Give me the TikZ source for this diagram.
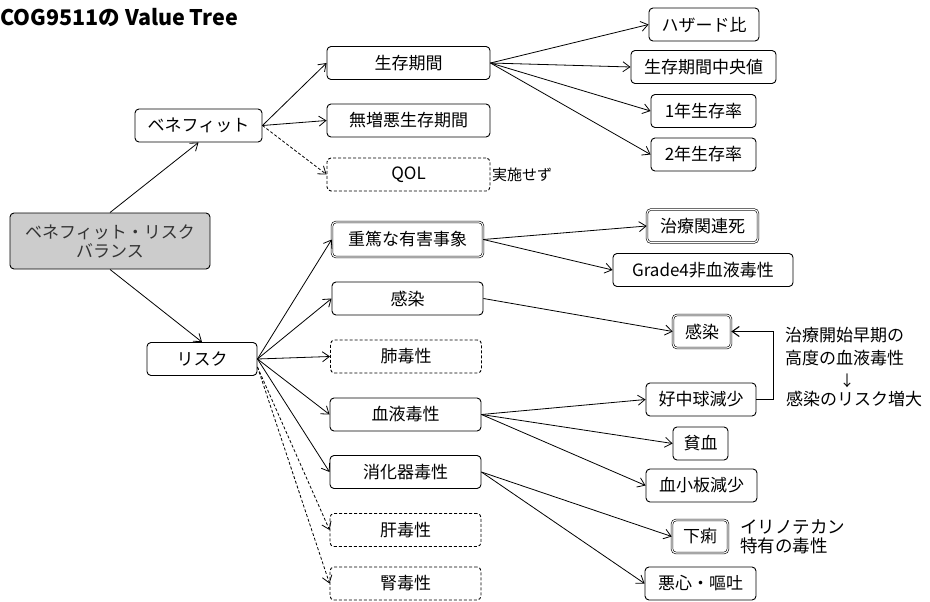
\documentclass[tikz,border=0pt]{standalone}
\usepackage{fontspec}
\setmainfont{Noto Sans CJK JP}
\usetikzlibrary{arrows.meta}
\begin{document}
\begin{tikzpicture}[x=1pt,y=-1pt,
  box/.style={draw, rounded corners=4pt, line width=0.9pt, inner sep=0pt,
    minimum height=33pt, font=\fontsize{17}{19}\selectfont, align=center},
  dashbox/.style={box, dash pattern=on 3pt off 2pt},
  dbl/.style={box, double, double distance=1.1pt, line width=0.6pt},
  arr/.style={-{Straight Barb[length=7pt,width=10pt]}, line width=0.8pt},
  darr/.style={arr, dash pattern=on 3pt off 2pt},
  note/.style={inner sep=0pt, font=\fontsize{17}{22.5}\selectfont, align=left}
]
\useasboundingbox (0,0) rectangle (930,602);

% title
\node[anchor=west, inner sep=0pt, font=\fontsize{21.5}{24}\selectfont\bfseries] (title) at (0,18) {COG9511の Value Tree};

% root and first level
\node[box, fill=gray!40, text=black!80, minimum width=200pt, minimum height=56pt] (root) at (110,241) {ベネフィット・リスク\\バランス};
\node[box, minimum width=127pt] (bene) at (198.5,125.5) {ベネフィット};
\node[box, minimum width=110pt] (risk) at (202,359) {リスク};

% benefit children
\node[box, minimum width=163pt] (seizon) at (408.5,63) {生存期間};
\node[box, minimum width=163pt] (muzou) at (408.5,120.5) {無増悪生存期間};
\node[dashbox, minimum width=163pt] (qol) at (408.5,174.5) {QOL};
\node[anchor=west, inner sep=0pt, font=\fontsize{15}{17}\selectfont] (jisshi) at (492,175) {実施せず};

% risk children
\node[dbl, minimum width=151pt, minimum height=35pt] (juutoku) at (407.5,239.5) {重篤な有害事象};
\node[box, minimum width=151pt] (kansen) at (407.5,298.5) {感染};
\node[dashbox, minimum width=151pt] (hai) at (406,356.5) {肺毒性};
\node[box, minimum width=151pt] (ketsu) at (405.5,414.5) {血液毒性};
\node[box, minimum width=151pt] (shoka) at (405.5,472) {消化器毒性};
\node[dashbox, minimum width=151pt] (kan) at (405.5,530) {肝毒性};
\node[dashbox, minimum width=151pt] (jin) at (405.5,583.5) {腎毒性};

% survival leaves
\node[box, minimum width=110pt] (hazard) at (704,24.5) {ハザード比};
\node[box, minimum width=145pt] (chuo) at (703.5,67) {生存期間中央値};
\node[box, minimum width=105pt] (yone) at (703.5,111) {1年生存率};
\node[box, minimum width=105pt] (ytwo) at (703.5,154.5) {2年生存率};

% adverse event leaves
\node[dbl, minimum width=111pt] (shibou) at (702.5,226) {治療関連死};
\node[box, minimum width=180pt] (grade) at (703,270) {Grade4非血液毒性};
\node[dbl, minimum width=58pt] (kansenR) at (702,331.5) {感染};
\node[box, minimum width=110pt] (kokyu) at (701,399.5) {好中球減少};
\node[box, minimum width=55pt] (hinketsu) at (700.5,443.5) {貧血};
\node[box, minimum width=111pt] (kesshoban) at (701.5,485.5) {血小板減少};
\node[dbl, minimum width=56pt] (geri) at (700,536.5) {下痢};
\node[box, minimum width=111pt] (oshin) at (700.5,583.5) {悪心・嘔吐};

% notes
\node[note, anchor=west] (noteA) at (785,346.5) {治療開始早期の\\高度の血液毒性};
\node[inner sep=0pt, font=\fontsize{15}{17}\selectfont] (noteArrow) at (847,381) {↓};
\node[note, anchor=west] (noteB) at (786,399) {感染のリスク増大};
\node[note, anchor=west, font=\fontsize{17.5}{18.5}\selectfont] (noteC) at (740,537) {イリノテカン\\特有の毒性};

% connectors
\draw[arr] (root.north) -- (bene.south);
\draw[arr] (root.south) -- (risk.north);

\draw[arr] (bene.east) -- (seizon.west);
\draw[arr] (bene.east) -- (muzou.west);
\draw[darr] (bene.east) -- (qol.west);

\draw[arr] (seizon.east) -- (hazard.west);
\draw[arr] (seizon.east) -- (chuo.west);
\draw[arr] (seizon.east) -- (yone.west);
\draw[arr] (seizon.east) -- (ytwo.west);

\draw[arr] (risk.east) -- (juutoku.west);
\draw[arr] (risk.east) -- (kansen.west);
\draw[arr] (risk.east) -- (hai.west);
\draw[arr] (risk.east) -- (ketsu.west);
\draw[arr] (risk.east) -- (shoka.west);
\draw[darr] ([yshift=-8pt]risk.east) -- (kan.west);
\draw[darr] ([yshift=-8pt]risk.east) -- (jin.west);

\draw[arr] (juutoku.east) -- (shibou.west);
\draw[arr] (juutoku.east) -- (grade.west);
\draw[arr] (kansen.east) -- (kansenR.west);

\draw[arr] (ketsu.east) -- (kokyu.west);
\draw[arr] (ketsu.east) -- (hinketsu.west);
\draw[arr] (ketsu.east) -- (kesshoban.west);

\draw[arr] (shoka.east) -- (geri.west);
\draw[arr] (shoka.east) -- (oshin.west);

\draw[arr, line width=1.1pt] (kokyu.east) -- ++(17,0) |- (kansenR.east);
\end{tikzpicture}
\end{document}
